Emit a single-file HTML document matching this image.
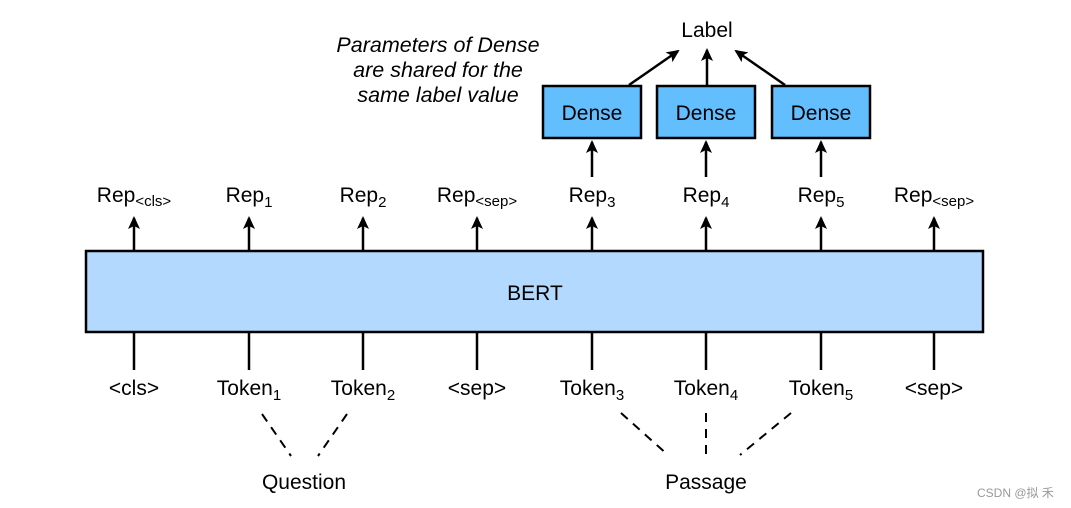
<!DOCTYPE html>
<html><head><meta charset="utf-8"><style>
html,body{margin:0;padding:0;background:#fff;}
svg{display:block;font-family:"Liberation Sans",Arial,sans-serif;}
</style></head><body>
<svg width="1071" height="508" viewBox="0 0 1071 508" xmlns="http://www.w3.org/2000/svg">
<defs><marker id="a" markerWidth="14" markerHeight="12" refX="11" refY="6" orient="auto" markerUnits="userSpaceOnUse"><path d="M0,0 L13,6 L0,12 L3,6 z" fill="#000"/></marker></defs>
<rect x="86" y="251" width="897" height="81" fill="#b3d9fe" stroke="#000" stroke-width="2.5"/>
<text x="535" y="300" font-size="21" text-anchor="middle">BERT</text>
<g stroke="#000" stroke-width="2.5" marker-end="url(#a)">
<line x1="134" y1="250" x2="134" y2="218"/><line x1="249" y1="250" x2="249" y2="218"/>
<line x1="363" y1="250" x2="363" y2="218"/><line x1="477" y1="250" x2="477" y2="218"/>
<line x1="592" y1="250" x2="592" y2="218"/><line x1="706" y1="250" x2="706" y2="218"/>
<line x1="821" y1="250" x2="821" y2="218"/><line x1="934" y1="250" x2="934" y2="218"/>
<line x1="592" y1="177" x2="592" y2="142"/><line x1="706" y1="177" x2="706" y2="142"/>
<line x1="821" y1="177" x2="821" y2="142"/>
<line x1="629" y1="85" x2="678" y2="51"/><line x1="707" y1="85" x2="707" y2="50"/>
<line x1="785" y1="85" x2="736" y2="51"/>
</g>
<g stroke="#000" stroke-width="2.5">
<line x1="134" y1="333" x2="134" y2="370"/><line x1="249" y1="333" x2="249" y2="370"/>
<line x1="363" y1="333" x2="363" y2="370"/><line x1="477" y1="333" x2="477" y2="370"/>
<line x1="592" y1="333" x2="592" y2="370"/><line x1="706" y1="333" x2="706" y2="370"/>
<line x1="821" y1="333" x2="821" y2="370"/><line x1="934" y1="333" x2="934" y2="370"/>
</g>
<g stroke="#000" stroke-width="2" stroke-dasharray="9,7">
<line x1="262" y1="414" x2="291" y2="456"/><line x1="347" y1="414" x2="318" y2="456"/>
<line x1="621" y1="413" x2="668" y2="455"/><line x1="706" y1="413" x2="706" y2="455"/>
<line x1="791" y1="413" x2="740" y2="455"/>
</g>
<g fill="#63befd" stroke="#000" stroke-width="2.5">
<rect x="543" y="86" width="98" height="52"/><rect x="657" y="86" width="98" height="52"/><rect x="772" y="86" width="98" height="52"/>
</g>
<g font-size="21" text-anchor="middle">
<text x="592" y="120">Dense</text><text x="706" y="120">Dense</text><text x="821" y="120">Dense</text>
<text x="707" y="37">Label</text>
<text x="134" y="202">Rep<tspan font-size="15" dy="4">&lt;cls&gt;</tspan></text>
<text x="249" y="202">Rep<tspan font-size="15" dy="5">1</tspan></text>
<text x="363" y="202">Rep<tspan font-size="15" dy="5">2</tspan></text>
<text x="477" y="202">Rep<tspan font-size="15" dy="4">&lt;sep&gt;</tspan></text>
<text x="592" y="202">Rep<tspan font-size="15" dy="5">3</tspan></text>
<text x="706" y="202">Rep<tspan font-size="15" dy="5">4</tspan></text>
<text x="821" y="202">Rep<tspan font-size="15" dy="5">5</tspan></text>
<text x="934" y="202">Rep<tspan font-size="15" dy="4">&lt;sep&gt;</tspan></text>
<text x="134" y="395">&lt;cls&gt;</text>
<text x="249" y="395">Token<tspan font-size="15" dy="5">1</tspan></text>
<text x="363" y="395">Token<tspan font-size="15" dy="5">2</tspan></text>
<text x="477" y="395">&lt;sep&gt;</text>
<text x="592" y="395">Token<tspan font-size="15" dy="5">3</tspan></text>
<text x="706" y="395">Token<tspan font-size="15" dy="5">4</tspan></text>
<text x="821" y="395">Token<tspan font-size="15" dy="5">5</tspan></text>
<text x="934" y="395">&lt;sep&gt;</text>
<text x="304" y="489">Question</text>
<text x="706" y="489">Passage</text>
</g>
<g font-size="21.5" font-style="italic" text-anchor="middle">
<text x="438" y="52">Parameters of Dense</text>
<text x="438" y="77">are shared for the</text>
<text x="438" y="102">same label value</text>
</g>
<text x="977" y="497" font-size="12" fill="#999" font-family="Liberation Sans,'Noto Sans CJK SC',sans-serif">CSDN @拟 禾</text>
</svg>
</body></html>
